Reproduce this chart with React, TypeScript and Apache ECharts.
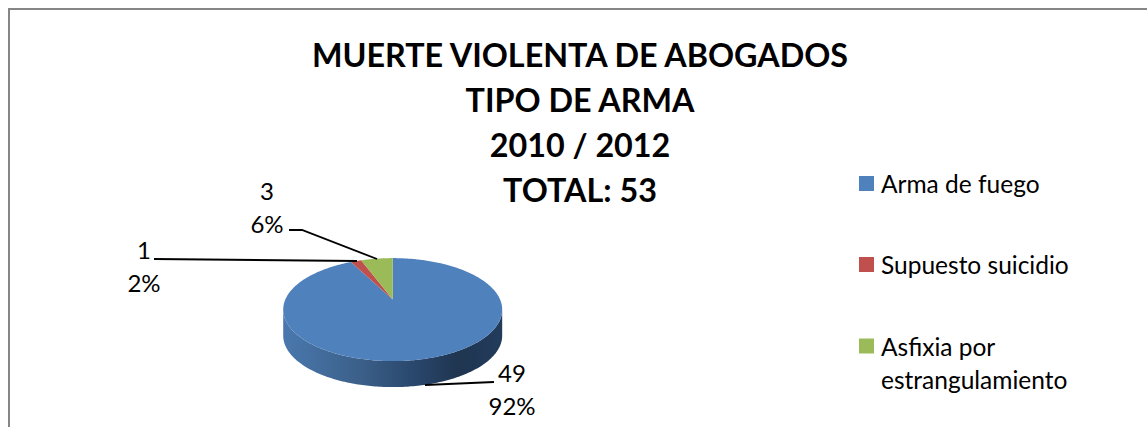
import React, { useEffect, useRef } from "react";
import * as echarts from "echarts";

const categories = ["Arma de fuego", "Supuesto suicidio", "Asfixia por estrangulamiento"];
const values = [49, 1, 3];
const percents = ["92%", "2%", "6%"];
const titleLines = ["MUERTE VIOLENTA DE ABOGADOS", "TIPO DE ARMA", "2010 / 2012", "TOTAL: 53"];
const colors = ["#4F81BD", "#C0504D", "#9BBB59"];

const FONT = "Lato";
const CX = 392.7, CY = 309.6, RX = 109.5, RY = 51.5, DEPTH = 26;
const K = 0.196; // perspective shift of the pie centre towards the far edge
const total = values.reduce((a, b) => a + b, 0);

// true pie angle (clockwise from the top) -> point on the projected rim
function rim(theta: number, dy = 0): number[] {
  const u = Math.sin(theta), v = Math.cos(theta);
  const d = 1 + K * v;
  const up = (u * Math.sqrt(1 - K * K)) / d;
  const vp = (v + K) / d;
  return [CX + RX * up, CY - RY * vp + dy];
}

const labelLayout = [
  { x: 512, y: 389, line: [[494, 382], [425, 385]] },
  { x: 144, y: 266, line: [[154, 259], [357, 261]] },
  { x: 267, y: 206.5, line: [[289, 230], [302, 230], [377, 259]] },
];

const FRONT_LIMIT = 90 + (Math.asin(K) * 180) / Math.PI;

function renderSlice(index: number) {
  return (_p: any, api: any) => {
    const before = values.slice(0, index).reduce((a, b) => a + b, 0);
    const a0 = (before / total) * Math.PI * 2;
    const a1 = ((before + Number(api.value(0))) / total) * Math.PI * 2;
    const STEPS = 360;
    const top: number[][] = [];
    for (let i = 0; i <= STEPS; i++) top.push(rim(a0 + ((a1 - a0) * i) / STEPS));
    const children: any[] = [];
    // side wall: the part of the rim on the near half
    const front: number[][] = [];
    for (let i = 0; i <= STEPS; i++) {
      const t = a0 + ((a1 - a0) * i) / STEPS;
      const deg = (t * 180) / Math.PI;
      if (deg >= FRONT_LIMIT && deg <= 360 - FRONT_LIMIT) front.push(rim(t));
    }
    if (front.length > 1) {
      const back = front.slice().reverse().map((p) => [p[0], p[1] + DEPTH]);
      children.push({
        type: "polygon",
        shape: { points: front.concat(back) },
        style: {
          fill: new echarts.graphic.LinearGradient(0, 0, 1, 0, [
            { offset: 0, color: "#4A78AE" },
            { offset: 0.35, color: "#3B6089" },
            { offset: 0.62, color: "#28456A" },
            { offset: 0.8, color: "#1F3550" },
            { offset: 1, color: "#233C5C" },
          ]),
        },
      });
    }
    children.push({
      type: "polygon",
      shape: { points: [[CX, CY - RY * K]].concat(top) },
      style: { fill: colors[index] },
    });
    const l = labelLayout[index];
    children.push({
      type: "polyline",
      shape: { points: l.line },
      style: { stroke: "#000", lineWidth: 1.8, fill: "none" },
    });
    children.push({
      type: "text",
      x: l.x,
      y: l.y,
      style: {
        text: `${values[index]}\n${percents[index]}`,
        font: `24px ${FONT}`,
        fill: "#000",
        align: "center",
        verticalAlign: "middle",
        lineHeight: 33,
      },
    });
    return { type: "group", children };
  };
}

const legendTops = [167, 248, 296.5];

export default function App() {
  const ref = useRef<HTMLDivElement>(null);
  useEffect(() => {
    document.body.style.margin = "0";
    document.body.style.background = "#fff";
    const chart = echarts.init(ref.current!, undefined, { renderer: "svg" });
    chart.setOption({
      animation: false,
      backgroundColor: "#fff",
      title: {
        text: titleLines.join("\n"),
        left: 575,
        top: 26.5,
        textAlign: "center",
        textStyle: { fontFamily: FONT, fontWeight: "bold", fontSize: 32.3, lineHeight: 45, color: "#000" },
      },
      legend: categories.map((c, i) => ({
        data: [c],
        left: 859,
        top: legendTops[i],
        padding: 0,
        itemWidth: 15,
        itemHeight: 15,
        itemGap: 0,
        selectedMode: false,
        icon: "rect",
        formatter: (n: string) =>
          i === 2 ? "{a| }\n{a|Asfixia por}\n{a|estrangulamiento}" : `{a|${n}}`,
        textStyle: {
          fontFamily: FONT,
          fontSize: 24.5,
          lineHeight: 33,
          color: "#000",
          rich: {
            a: { fontFamily: FONT, fontSize: 24.5, lineHeight: 33, color: "#000", padding: [0, 0, 0, 2] },
          },
        },
      })),
      graphic: [
        {
          type: "polyline",
          shape: { points: [[9, 427], [9, 9], [1147, 9]] },
          style: { stroke: "#868686", lineWidth: 2, fill: "none" },
        },
      ],
      series: categories.map((c, i) => ({
        type: "custom",
        name: c,
        coordinateSystem: "none",
        silent: true,
        itemStyle: { color: colors[i] },
        renderItem: renderSlice(i),
        data: [[values[i]]],
        z: 2,
      })),
    });
    return () => chart.dispose();
  }, []);
  return <div ref={ref} style={{ position: "fixed", left: 0, top: 0, width: 1147, height: 427 }} />;
}
